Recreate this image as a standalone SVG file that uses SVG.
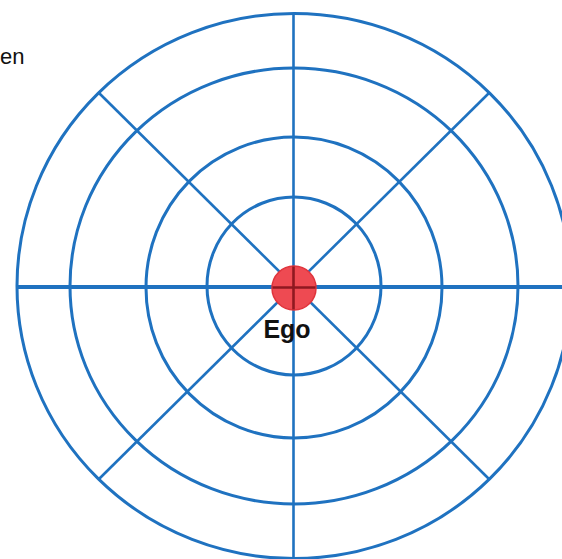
<svg xmlns="http://www.w3.org/2000/svg" width="562" height="559" viewBox="0 0 562 559">
  <style>
    .ring { fill: none; stroke: #1f72c0; stroke-width: 3; }
    .spoke { stroke: #1f72c0; stroke-width: 2.6; }
    .axis { stroke: #1f72c0; stroke-width: 4; }
    .lbl { font-family: "Liberation Sans", Arial, sans-serif; fill: #111; }
    .cross { stroke: #8f1820; stroke-width: 2.6; }
  </style>
  <rect width="562" height="559" fill="#ffffff"/>
  <g id="rings">
    <ellipse id="ring-outer" class="ring" cx="294" cy="286" rx="277" ry="272.5"/>
    <ellipse id="ring-2" class="ring" cx="294" cy="286" rx="224" ry="218"/>
    <ellipse id="ring-3" class="ring" cx="294" cy="287.5" rx="148" ry="150.5"/>
    <ellipse id="ring-4" class="ring" cx="294" cy="286" rx="87" ry="89"/>
  </g>
  <g id="connectors">
    <line class="spoke" x1="99" y1="93" x2="489" y2="479"/>
    <line class="spoke" x1="489" y1="93" x2="99" y2="479"/>
    <line class="spoke" x1="293.5" y1="13" x2="293.5" y2="559"/>
    <line class="axis" x1="16" y1="287" x2="562" y2="287"/>
  </g>
  <g id="ego">
    <circle cx="294" cy="288" r="22" fill="#ee4a52" stroke="#e0353d" stroke-width="1.5"/>
    <line class="cross" x1="272.5" y1="287.5" x2="315.5" y2="287.5"/>
    <line class="cross" x1="293.5" y1="266.5" x2="293.5" y2="309.5"/>
    <text class="lbl" x="287" y="338" font-size="25" font-weight="bold" text-anchor="middle">Ego</text>
  </g>
  <g id="label-en">
    <text class="lbl" x="0" y="64" font-size="22" fill="#222">en</text>
  </g>
</svg>
